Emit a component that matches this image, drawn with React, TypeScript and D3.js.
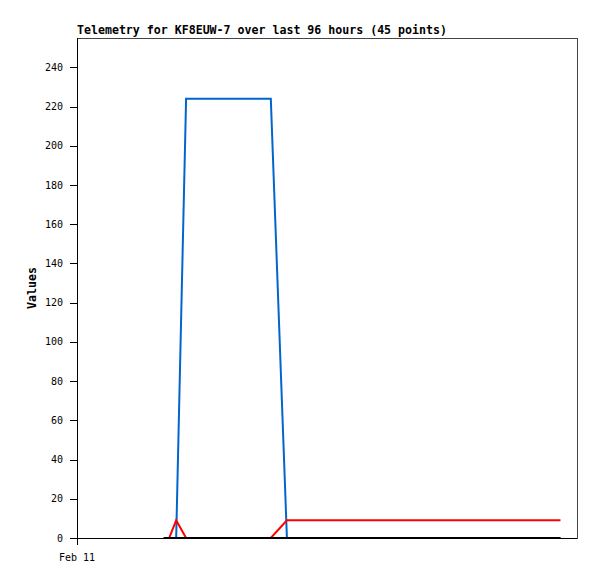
import React from "react";
import * as d3 from "d3";

const title = "Telemetry for KF8EUW-7 over last 96 hours (45 points)";
const yLabel = "Values";
const yTicks = [0, 20, 40, 60, 80, 100, 120, 140, 160, 180, 200, 220, 240];
const xTickHours = [0];
const xTickLabels = ["Feb 11"];

// hours since Feb 11 00:00
const hours = [
  21.0, 22.3, 24.0, 26.4, 28.5, 30.6, 32.8, 35.0, 37.1, 39.3, 41.5, 43.6, 45.0, 46.9,
  50.8, 53.0, 55.1, 57.3, 59.5, 61.6, 63.8, 66.0, 68.1, 70.3, 72.5, 74.6, 76.8, 79.0,
  81.1, 83.3, 85.5, 87.6, 89.8, 92.0, 94.1, 96.3, 98.5, 100.6, 102.8, 105.0, 107.1,
  109.3, 111.5, 113.6, 117.0,
];
const blueValues = [
  0, 0, 0, 224, 224, 224, 224, 224, 224, 224, 224, 224, 224, 224,
  0, 0, 0, 0, 0, 0, 0, 0, 0, 0, 0, 0, 0, 0, 0, 0, 0, 0, 0, 0, 0, 0, 0, 0, 0, 0, 0, 0, 0, 0, 0,
];
const redValues = [
  0, 0, 9, 0, 0, 0, 0, 0, 0, 0, 0, 0, 0, 0,
  9, 9, 9, 9, 9, 9, 9, 9, 9, 9, 9, 9, 9, 9, 9, 9, 9, 9, 9, 9, 9, 9, 9, 9, 9, 9, 9, 9, 9, 9, 9,
];
const blackValues = hours.map(() => 0);

const series = [
  { values: blueValues, color: "#0066cc" },
  { values: redValues, color: "#ff0000" },
  { values: blackValues, color: "#000000" },
];

export default function App() {
  const W = 597, H = 579;
  const L = 77, R = 577, T = 38, B = 538;
  const x = d3.scaleLinear().domain([0, 121]).range([L, R]);
  const y = d3.scaleLinear().domain([0, 255]).range([B, T]);
  const line = d3
    .line<number>()
    .x((_, i) => x(hours[i]))
    .y((v) => y(v));
  const mono = "'DejaVu Sans Mono', monospace";
  return (
    <svg width={W} height={H} style={{ position: "absolute", left: 0, top: 0 }}>
      <rect x={0} y={0} width={W} height={H} fill="#fff" />
      <text x={L} y={34} fontFamily={mono} fontWeight="bold" fontSize={11.6} fill="#000">
        {title}
      </text>
      {/* frame */}
      <rect x={L + 0.5} y={T + 0.5} width={R - L} height={B - T} fill="none" stroke="#444" strokeWidth={1} shapeRendering="crispEdges" />
      {series.map((s, k) => (
        <path key={k} d={line(s.values) || ""} fill="none" stroke={s.color} strokeWidth={2} strokeLinejoin="miter" />
      ))}
      {/* y axis */}
      <line x1={L + 0.5} x2={L + 0.5} y1={T} y2={B + 7} stroke="#000" shapeRendering="crispEdges" />
      <line x1={L - 7} x2={R} y1={B + 0.5} y2={B + 0.5} stroke="#000" shapeRendering="crispEdges" />
      {yTicks.map((t) => (
        <g key={t}>
          <line x1={L - 7} x2={L} y1={Math.round(y(t)) + 0.5} y2={Math.round(y(t)) + 0.5} stroke="#000" shapeRendering="crispEdges" />
          <text x={L - 14} y={y(t)} dy="0.35em" textAnchor="end" fontFamily={mono} fontSize={10} fill="#000">
            {t}
          </text>
        </g>
      ))}
      {xTickHours.map((h, i) => (
        <g key={h}>
          <line x1={x(h) + 0.5} x2={x(h) + 0.5} y1={B} y2={B + 7} stroke="#000" shapeRendering="crispEdges" />
          <text x={x(h)} y={561} textAnchor="middle" fontFamily={mono} fontSize={10} fill="#000">
            {xTickLabels[i]}
          </text>
        </g>
      ))}
      <text
        transform={`translate(36,${(T + B) / 2}) rotate(-90)`}
        textAnchor="middle"
        fontFamily={mono}
        fontWeight="bold"
        fontSize={11.6}
        fill="#000"
      >
        {yLabel}
      </text>
    </svg>
  );
}
